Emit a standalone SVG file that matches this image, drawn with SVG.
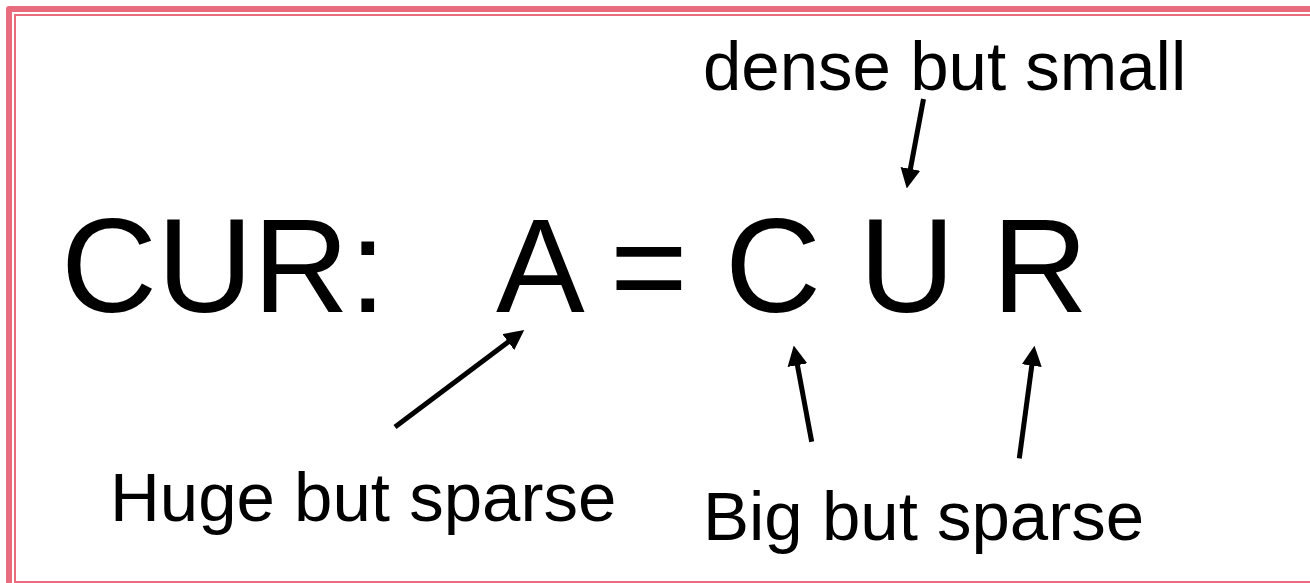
<svg xmlns="http://www.w3.org/2000/svg" width="1310" height="583" viewBox="0 0 1310 583">
<style>
.big{font-family:"Liberation Sans",Arial,sans-serif;font-size:133px;fill:#000}
.lbl{font-family:"Liberation Sans",Arial,sans-serif;font-size:69px;fill:#000}
.frame{fill:none;stroke:#e96b7e}
.conn{stroke:#000;stroke-width:5;fill:none;marker-end:url(#ah)}
</style>
<defs>
<marker id="ah" markerUnits="userSpaceOnUse" markerWidth="20" markerHeight="20" viewBox="0 0 18 18" refX="4" refY="9" orient="auto">
<path d="M0,0 L18,9 L0,18 z" fill="#000"/>
</marker>
</defs>
<rect width="1310" height="583" fill="#fff"/>
<g id="frame">
<path class="frame" d="M9,583 V9 H1310" stroke-width="6" stroke-linejoin="round"/>
<path class="frame" d="M1310,15 H15 V582 H1310" stroke-width="2"/>
</g>
<g id="formula">
<text class="big" x="61" y="312">CUR:</text>
<text class="big" x="496" y="312">A</text>
<text class="big" x="610" y="312">=</text>
<text class="big" x="725" y="312">C</text>
<text class="big" x="859" y="312">U</text>
<text class="big" x="992" y="312">R</text>
</g>
<g id="label-dense"><text class="lbl" x="703" y="90">dense but small</text></g>
<g id="label-huge"><text class="lbl" x="110" y="521">Huge but sparse</text></g>
<g id="label-big"><text class="lbl" x="703" y="540">Big but sparse</text></g>
<g id="connectors">
<line class="conn" x1="395" y1="427" x2="511.8" y2="339.4"/>
<line class="conn" x1="923.5" y1="99" x2="909.6" y2="173.2"/>
<line class="conn" x1="811.7" y1="441.7" x2="796.6" y2="360.8"/>
<line class="conn" x1="1019.3" y1="458.3" x2="1032.4" y2="361.2"/>
</g>
</svg>
